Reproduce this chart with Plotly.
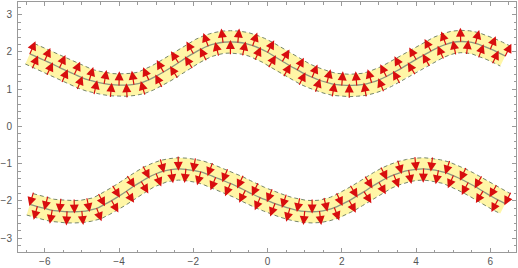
import numpy as np
import plotly.graph_objects as go

# sample positions along x
x_vals = [round(-6.4 + 0.2 * k, 1) for k in range(65)]

upper_y = [1.95, 1.86, 1.77, 1.68, 1.58, 1.49, 1.40, 1.31, 1.24, 1.19,
           1.15, 1.12, 1.11, 1.11, 1.13, 1.17, 1.25, 1.35, 1.46, 1.58,
           1.71, 1.84, 1.96, 2.07, 2.16, 2.22, 2.26, 2.27, 2.26, 2.23,
           2.17, 2.09, 1.99, 1.87, 1.75, 1.63, 1.52, 1.41, 1.32, 1.24,
           1.18, 1.13, 1.11, 1.10, 1.11, 1.13, 1.18, 1.25, 1.34, 1.45,
           1.56, 1.68, 1.80, 1.91, 2.02, 2.12, 2.20, 2.26, 2.28, 2.27,
           2.23, 2.16, 2.08, 1.99, 1.89]

lower_y = [-2.09, -2.15, -2.20, -2.25, -2.27, -2.29, -2.29, -2.28, -2.25, -2.20,
           -2.10, -1.99, -1.87, -1.74, -1.60, -1.48, -1.36, -1.27, -1.20, -1.16,
           -1.14, -1.15, -1.18, -1.22, -1.29, -1.37, -1.45, -1.53, -1.62, -1.72,
           -1.82, -1.91, -1.99, -2.07, -2.14, -2.20, -2.25, -2.28, -2.29, -2.28,
           -2.24, -2.18, -2.09, -1.99, -1.87, -1.75, -1.62, -1.50, -1.39, -1.30,
           -1.23, -1.18, -1.15, -1.14, -1.16, -1.19, -1.24, -1.32, -1.41, -1.51,
           -1.62, -1.74, -1.86, -1.97, -2.07]

x_ticks = [-6, -4, -2, 0, 2, 4, 6]
y_ticks = [-3, -2, -1, 0, 1, 2, 3]

HALF_WIDTH = 0.30
ARROW_LEN = 0.42
ROW_OFF = 0.16

FILL = "#FFF6A6"
EDGE = "#76866A"
CENTRE = "#8E977F"
RED = "#D80E0E"

fig = go.Figure()
annotations = []

def add_band(xs, ys, direction):
    xs = np.array(xs, float)
    ys = np.array(ys, float)
    s = np.gradient(ys, xs)
    nrm = np.sqrt(1 + s * s)
    nx, ny = -s / nrm, 1 / nrm  # upward normal
    tx, ty = xs + HALF_WIDTH * nx, ys + HALF_WIDTH * ny
    bx, by = xs - HALF_WIDTH * nx, ys - HALF_WIDTH * ny
    fig.add_trace(go.Scatter(x=np.concatenate([tx, bx[::-1]]),
                             y=np.concatenate([ty, by[::-1]]),
                             fill="toself", fillcolor=FILL, mode="lines",
                             line=dict(width=0), hoverinfo="skip", showlegend=False))
    for ex, ey in ((tx, ty), (bx, by)):
        fig.add_trace(go.Scatter(x=ex, y=ey, mode="lines",
                                 line=dict(color=EDGE, width=1, dash="4px,3px"),
                                 hoverinfo="skip", showlegend=False))
    fig.add_trace(go.Scatter(x=xs, y=ys, mode="lines",
                             line=dict(color=CENTRE, width=1.3, shape="spline"),
                             hoverinfo="skip", showlegend=False))
    dx, dy = direction * nx, direction * ny
    for i in range(len(xs)):
        off = ROW_OFF if i % 2 == 0 else -ROW_OFF
        cx, cy = xs[i] + off * nx[i], ys[i] + off * ny[i]
        annotations.append(dict(
            x=cx + dx[i] * ARROW_LEN / 2, y=cy + dy[i] * ARROW_LEN / 2,
            ax=cx - dx[i] * ARROW_LEN / 2, ay=cy - dy[i] * ARROW_LEN / 2,
            xref="x", yref="y", axref="x", ayref="y", text="",
            showarrow=True, arrowhead=2, arrowsize=1.5, arrowwidth=1.2,
            arrowcolor=RED, standoff=0, startstandoff=0))

add_band(x_vals, upper_y, 1)
add_band(x_vals, lower_y, -1)

axis_common = dict(showgrid=False, zeroline=False, showline=True, linecolor="#9a9a9a",
                   linewidth=1, mirror="allticks", ticks="inside", ticklen=4,
                   tickcolor="#9a9a9a", tickwidth=1,
                   tickfont=dict(family="Liberation Sans, Arial", size=10, color="#555555"))

fig.update_layout(
    width=518, height=268,
    margin=dict(l=13, r=2, t=1, b=15),
    paper_bgcolor="white", plot_bgcolor="white",
    annotations=annotations,
    xaxis=dict(range=[-6.72, 6.69], tickvals=x_ticks,
               minor=dict(dtick=0.5, tick0=0, ticks="inside", ticklen=2.5, tickcolor="#9a9a9a"),
               **axis_common),
    yaxis=dict(range=[-3.37, 3.34], tickvals=y_ticks,
               minor=dict(dtick=0.2, tick0=0, ticks="inside", ticklen=2.5, tickcolor="#9a9a9a"),
               ticklabelstandoff=3,
               **axis_common),
)

fig.write_html("out.html")
